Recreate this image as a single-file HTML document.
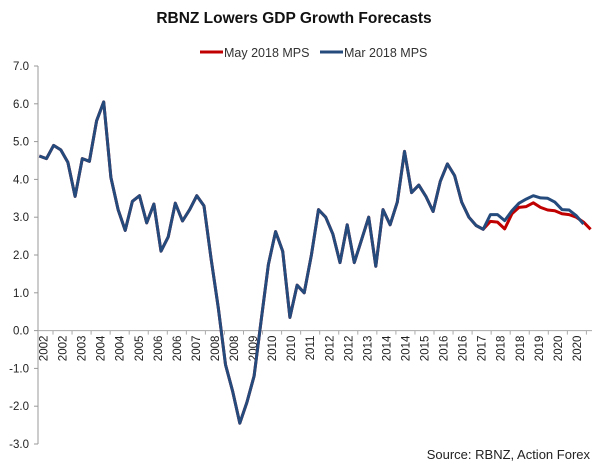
<!DOCTYPE html>
<html><head><meta charset="utf-8"><style>
body{margin:0;background:#fff;}
svg{display:block;font-family:"Liberation Sans",Arial,sans-serif;}
</style></head><body>
<svg id="chart" width="600" height="472" viewBox="0 0 600 472">
<text x="294" y="23" text-anchor="middle" font-size="15.5" font-weight="bold" fill="#111">RBNZ Lowers GDP Growth Forecasts</text>
<g>
<g><line x1="200" y1="52" x2="223" y2="52" stroke="#c00000" stroke-width="3"/><text x="224" y="57" font-size="12.5" fill="#333">May 2018 MPS</text></g>
<g><line x1="320" y1="52" x2="343" y2="52" stroke="#254a7c" stroke-width="3"/><text x="344" y="57" font-size="12.5" fill="#333">Mar 2018 MPS</text></g>
</g>
<g id="axes"></g>
<g id="series"></g>
<text x="590" y="459" text-anchor="end" font-size="13" fill="#222">Source: RBNZ, Action Forex</text>
</svg>
<script>
const yTicks=[7,6,5,4,3,2,1,0,-1,-2,-3];
const xLabels=["2002","2002","2003","2004","2004","2005","2006","2006","2007","2008","2008","2009","2010","2010","2011","2012","2012","2013","2014","2014","2015","2016","2016","2017","2018","2018","2019","2020","2020"];
const marValues=[4.62,4.55,4.9,4.78,4.45,3.55,4.55,4.48,5.55,6.05,4.05,3.2,2.65,3.42,3.57,2.85,3.35,2.1,2.48,3.37,2.9,3.2,3.57,3.3,1.9,0.6,-0.9,-1.6,-2.45,-1.9,-1.2,0.3,1.75,2.62,2.1,0.35,1.2,1.0,2.0,3.2,3.0,2.55,1.8,2.8,1.8,2.4,3.0,1.7,3.2,2.8,3.4,4.74,3.65,3.85,3.55,3.15,3.95,4.41,4.1,3.4,3.0,2.78,2.68,3.07,3.07,2.91,3.17,3.37,3.48,3.57,3.51,3.5,3.4,3.2,3.19,3.04,2.82];
const mayValues=[4.62,4.55,4.9,4.78,4.45,3.55,4.55,4.48,5.55,6.05,4.05,3.2,2.65,3.42,3.57,2.85,3.35,2.1,2.48,3.37,2.9,3.2,3.57,3.3,1.9,0.6,-0.9,-1.6,-2.45,-1.9,-1.2,0.3,1.75,2.62,2.1,0.35,1.2,1.0,2.0,3.2,3.0,2.55,1.8,2.8,1.8,2.4,3.0,1.7,3.2,2.8,3.4,4.74,3.65,3.85,3.55,3.15,3.95,4.41,4.1,3.4,3.0,2.78,2.68,2.89,2.87,2.69,3.09,3.26,3.28,3.38,3.26,3.19,3.17,3.09,3.07,3.0,2.87,2.68];
const NS="http://www.w3.org/2000/svg";
const y0=66,y1=444,vMax=7,vMin=-3;
function yScale(v){return y0+(vMax-v)*(y1-y0)/(vMax-vMin);}
function xScale(i){return 39.3+i*7.16;}
function xLab(i){return 43.5+i*19.05;}
function mk(t,a,p){const e=document.createElementNS(NS,t);for(const k in a)e.setAttribute(k,a[k]);p.appendChild(e);return e;}
const ax=document.getElementById('axes');
const yaxis=mk('line',{x1:38,y1:y0,x2:38,y2:y1,stroke:'#999','stroke-width':1},ax);


yTicks.forEach(v=>{
 const y=yScale(v);
 mk('line',{x1:34,y1:y,x2:38,y2:y,stroke:'#999'},ax);
 const t=mk('text',{x:29,y:y+4,'text-anchor':'end','font-size':11.5,fill:'#222'},ax);
 t.textContent=v.toFixed(1);
 
 
});
const xaxis=mk('line',{x1:38,y1:yScale(0),x2:592,y2:yScale(0),stroke:'#aaa','stroke-width':1},ax);


xLabels.forEach((l,i)=>{
 const x=xLab(i);
 mk('line',{x1:x+9.5,y1:yScale(0),x2:x+9.5,y2:yScale(0)+4,stroke:'#aaa'},ax);
 const t=mk('text',{x:0,y:0,'text-anchor':'end','font-size':11.5,fill:'#222',transform:'translate('+(x+4)+','+(yScale(0)+5)+') rotate(-90)'},ax);
 t.textContent=l;
 
 
});
const sg=document.getElementById('series');
function line(vals,color,name){
 const d=vals.map((v,i)=>(i?'L':'M')+xScale(i).toFixed(1)+','+yScale(v).toFixed(1)).join('');
 const p=mk('path',{d:d,fill:'none',stroke:color,'stroke-width':3,'stroke-linejoin':'round'},sg);
 
 
}
line(mayValues,'#c00000','may-2018-mps-line');
line(marValues,'#254a7c','mar-2018-mps-line');
</script>
</body></html>
